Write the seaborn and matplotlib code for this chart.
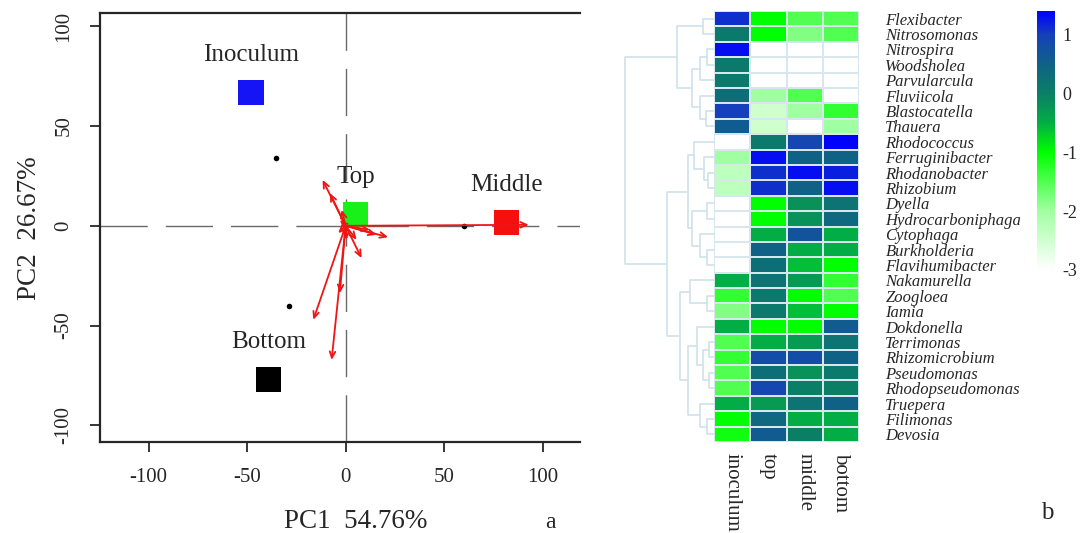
import matplotlib
matplotlib.use("Agg")
import matplotlib.pyplot as plt
from matplotlib.colors import LinearSegmentedColormap
import numpy as np
import pandas as pd
import seaborn as sns

# ---- panel a: PCA biplot ----
samples = ["Inoculum", "Top", "Middle", "Bottom"]
pc1 = [-48, 5.2, 81.5, -39]
pc2 = [66.8, 5.5, 1.6, -76.9]
sample_colors = ["#1414f5", "#19f019", "#f50f0f", "#000000"]

site_x = [-35.4, 60, -28.8]
site_y = [34.2, 0, -40.4]

arrow_x = [93, -11.7, -8, 21.6, 15.7, 12.3, 8.1, 5.6, 0.5, -3.8, -2.9, -2, -2.9, -16.4, -7.1]
arrow_y = [0.5, 23, 16.4, -5.7, -4.5, -2, -16.2, -7, -7, -3.7, 3, 8, -33.7, -47.1, -67.2]

# ---- panel b: heatmap ----
genera = ["Flexibacter", "Nitrosomonas", "Nitrospira", "Woodsholea", "Parvularcula",
          "Fluviicola", "Blastocatella", "Thauera", "Rhodococcus", "Ferruginibacter",
          "Rhodanobacter", "Rhizobium", "Dyella", "Hydrocarboniphaga", "Cytophaga",
          "Burkholderia", "Flavihumibacter", "Nakamurella", "Zoogloea", "Iamia",
          "Dokdonella", "Terrimonas", "Rhizomicrobium", "Pseudomonas",
          "Rhodopseudomonas", "Truepera", "Filimonas", "Devosia"]
conditions = ["inoculum", "top", "middle", "bottom"]
inoculum = [1.1, 0.1, 1.3, 0.1, 0.1, 0.3, 1.0, 0.6, -3, -2, -2.3, -2.3, -3, -3, -3, -3,
            -3, -0.5, -1.3, -1.8, -0.5, -1.5, -1.3, -1.5, -1.5, -0.5, -1, -1.1]
top = [-1, -1, -3, -3, -3, -2, -2.5, -2.5, 0.1, 1.3, 1.1, 1.1, -1, -1, -0.5, 0.5,
       0.3, 0.2, 0.1, 0.1, -1, -0.5, 0.8, 0.3, 0.9, -0.3, 0.4, 0.6]
middle = [-1.5, -1.8, -3, -3, -3, -1.5, -2, -3, 0.9, 0.5, 1.3, 0.5, -0.2, -0.2, 0.7, -0.5,
          -0.6, -0.3, -1, -0.6, -1, -0.3, 0.8, -0.2, 0, 0.2, -0.5, 0]
bottom = [-1.5, -1.5, -3, -3, -3, -3, -1.3, -2, 1.4, 0.5, 1.2, 1.3, 0.2, 0.4, -0.5, -0.5,
          -1, -1.3, -1.5, -1, 0.6, 0.2, 0.5, 0.1, 0, 0.5, -0.5, -0.5]

# row dendrogram: (left, right, merge height), leaves are row indices
row_tree = (
    ((0, 1, 1.2), (((2, 3, 0.8), 4, 1.6), (5, (6, 7, 0.9), 1.6), 2.5), 4.2),
    (((8, (9, (10, 11, 0.7), 1.1), 2.2), ((12, 13, 0.8), (14, (15, 16, 0.8), 1.6), 2.5), 2.9),
     ((17, (18, 19, 0.8), 2.7),
      ((20, ((21, 22, 0.6), (23, 24, 0.6), 1.2), 1.9), (25, (26, 27, 0.8), 1.6), 2.9), 3.8),
     5.3),
    10)

sns.set_style("ticks")
plt.rcParams["font.family"] = ["Liberation Serif", "DejaVu Serif"]
plt.rcParams["axes.unicode_minus"] = False

W, H = 1091, 533
fig = plt.figure(figsize=(W / 100, H / 100), dpi=100)


def box(l, t, r, b):
    return [l / W, 1 - b / H, (r - l) / W, (b - t) / H]


# PCA
ax = fig.add_axes(box(100, 13, 580, 442))
ax.axhline(0, color="#6a6a6a", lw=1.0, ls=(0, (34, 13)), zorder=1)
ax.axvline(0, color="#6a6a6a", lw=1.0, ls=(0, (34, 13)), zorder=1)

pca = pd.DataFrame({"sample": samples, "PC1": pc1, "PC2": pc2})
sns.scatterplot(data=pca, x="PC1", y="PC2", hue="sample", palette=dict(zip(samples, sample_colors)),
                marker="s", s=330, linewidth=0, legend=False, ax=ax, zorder=3)
sns.scatterplot(x=site_x, y=site_y, color="black", s=16, linewidth=0, ax=ax, zorder=3)

for dx, dy in zip(arrow_x, arrow_y):
    ax.annotate("", xy=(dx, dy), xytext=(0, 0),
                arrowprops=dict(arrowstyle="->,head_length=0.45,head_width=0.2",
                                color="#f01414", lw=1.3, shrinkA=0, shrinkB=0), zorder=4)

for name, x, y in zip(samples, pc1, pc2):
    ax.annotate(name, (x, y), xytext=(0, 27), textcoords="offset points",
                ha="center", va="center", fontsize=18)

ax.set_xlim(-124.7, 119)
ax.set_ylim(-108.3, 106.6)
ax.set_xticks([-100, -50, 0, 50, 100])
ax.set_yticks([-100, -50, 0, 50, 100])
ax.tick_params(length=7, width=1.3, labelsize=15, pad=12)
for lab in ax.get_yticklabels():
    lab.set_rotation(90)
    lab.set_va("center")
ax.spines["right"].set_visible(False)
for s in ["left", "bottom", "top"]:
    ax.spines[s].set_linewidth(1.6)
ax.set_xlabel("PC1  54.76%", fontsize=19.5)
ax.set_ylabel("PC2  26.67%", fontsize=19.5)
ax.xaxis.set_label_coords(0.533, -0.186)
ax.xaxis.label.set_va("center")
ax.yaxis.set_label_coords(-0.146, 0.499)
ax.yaxis.label.set_va("center")
fig.text(550 / W, 1 - 523 / H, "a", ha="center", va="center", fontsize=17)

# heatmap
cmap = LinearSegmentedColormap.from_list("gb", [
    ((-3 + 3) / 4.4, "#ffffff"),
    ((-2 + 3) / 4.4, "#a0ffa0"),
    ((-1 + 3) / 4.4, "#00ff00"),
    ((-0.5 + 3) / 4.4, "#03ad46"),
    ((0 + 3) / 4.4, "#0b7f66"),
    ((0.5 + 3) / 4.4, "#0f6285"),
    ((1.0 + 3) / 4.4, "#1540bb"),
    (1.0, "#0000ff"),
])
df = pd.DataFrame({"inoculum": inoculum, "top": top, "middle": middle, "bottom": bottom},
                  index=genera)[conditions]

hm_ax = fig.add_axes(box(714, 11, 859, 442))
cb_ax = fig.add_axes(box(1037, 11, 1055, 270))
sns.heatmap(df, ax=hm_ax, cmap=cmap, vmin=-3, vmax=1.4, linewidths=1.2, linecolor="#d8e6ee",
            cbar_ax=cb_ax, xticklabels=True, yticklabels=True)
hm_ax.yaxis.tick_right()
hm_ax.tick_params(axis="y", length=0, pad=19, labelsize=12, labelright=True, labelleft=False)
hm_ax.set_yticklabels(genera, rotation=0, style="italic")
hm_ax.set_xticklabels(conditions, rotation=270, fontsize=15, va="top", ha="center")
hm_ax.tick_params(axis="x", length=0, pad=8)
hm_ax.set_xlabel("")
hm_ax.set_ylabel("")

cb = hm_ax.collections[0].colorbar
cb.set_ticks([1, 0, -1, -2, -3])
cb.ax.tick_params(length=0, labelsize=13, pad=5)
cb.outline.set_visible(False)
fig.text(1047 / W, 1 - 513 / H, "b", ha="center", va="center", fontsize=18)

# dendrogram
dd_ax = fig.add_axes(box(620, 11, 714, 442))


def draw(node):
    if isinstance(node, int):
        return node + 0.5, 0.0
    left, right, h = node
    yl, hl = draw(left)
    yr, hr = draw(right)
    dd_ax.plot([hl, h, h, hr], [yl, yl, yr, yr], color="#cfe2ea", lw=1.2, clip_on=False)
    return (yl + yr) / 2, h


draw(row_tree)
dd_ax.set_xlim(10 + 5 / 8.9, 0)
dd_ax.set_ylim(len(genera), 0)
dd_ax.axis("off")

fig.savefig("out.png", dpi=100)
